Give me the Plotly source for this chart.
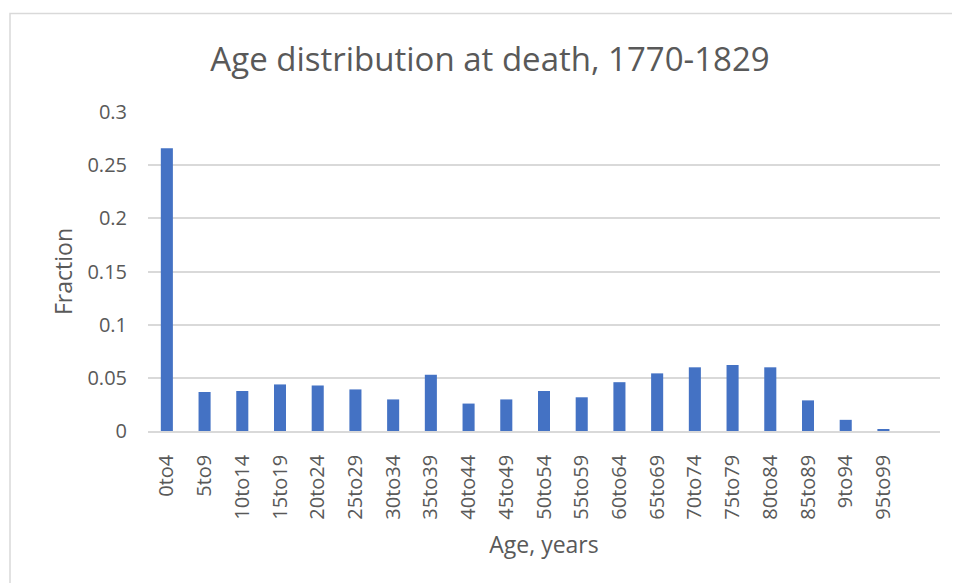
import plotly.graph_objects as go

categories = ["0to4", "5to9", "10to14", "15to19", "20to24", "25to29", "30to34",
              "35to39", "40to44", "45to49", "50to54", "55to59", "60to64", "65to69",
              "70to74", "75to79", "80to84", "85to89", "9to94", "95to99"]
fractions = [0.266, 0.0367, 0.0376, 0.0438, 0.0428, 0.0391, 0.0297,
             0.0529, 0.0258, 0.0297, 0.0376, 0.0317, 0.0459, 0.0542,
             0.0599, 0.0621, 0.0599, 0.0288, 0.0105, 0.0015]
y_ticks = [0, 0.05, 0.1, 0.15, 0.2, 0.25, 0.3]
y_tick_labels = ["0", "0.05", "0.1", "0.15", "0.2", "0.25", "0.3"]

FONT = "Open Sans"
GREY = "#595959"

fig = go.Figure(go.Bar(x=categories, y=fractions, marker_color="#4472C4",
                       marker_line_width=0))

# page body has an 8px margin, so figure is sized to fit the window
W, H = 952, 575
L, R, T, B = 140, 20, 104, 152
pw, ph = W - L - R, H - T - B

def px_to_paper_x(px):
    return (px - L) / pw

def px_to_paper_y(py):
    return (H - B - py) / ph

fig.update_layout(
    width=W, height=H,
    margin=dict(l=L, r=R, t=T, b=B, pad=0),
    paper_bgcolor="white", plot_bgcolor="white",
    bargap=0.68,
    showlegend=False,
    title=dict(text="Age distribution at death, 1770-1829", x=(490 - 8) / W, xanchor="center",
               y=1 - 51 / H, yanchor="middle",
               font=dict(family=FONT, size=33, color=GREY)),
    font=dict(family=FONT, color=GREY),
    shapes=[dict(type="rect", xref="paper", yref="paper",
                 x0=px_to_paper_x(2), x1=px_to_paper_x(1000),
                 y0=px_to_paper_y(700), y1=px_to_paper_y(5.5),
                 line=dict(color="#d9d9d9", width=1.5), fillcolor="rgba(0,0,0,0)",
                 layer="below")],
)

fig.update_xaxes(
    range=[-0.5, 20.5],
    tickangle=-90,
    tickfont=dict(family=FONT, size=20, color=GREY),
    showgrid=False,
    showline=True, linecolor="#d9d9d9", linewidth=1.5,
    ticks="", ticklabelstandoff=14,
    title=dict(text="Age, years", font=dict(family=FONT, size=23, color=GREY), standoff=18),
)
fig.update_yaxes(
    range=[0, 0.3],
    tickvals=y_ticks, ticktext=y_tick_labels,
    tickfont=dict(family=FONT, size=20, color=GREY),
    showgrid=True, gridcolor="#d9d9d9", gridwidth=1.5,
    zeroline=False,
    ticks="", ticklabelstandoff=20,
    title=dict(text="Fraction", font=dict(family=FONT, size=23, color=GREY), standoff=8),
)

fig.write_html("out.html")
